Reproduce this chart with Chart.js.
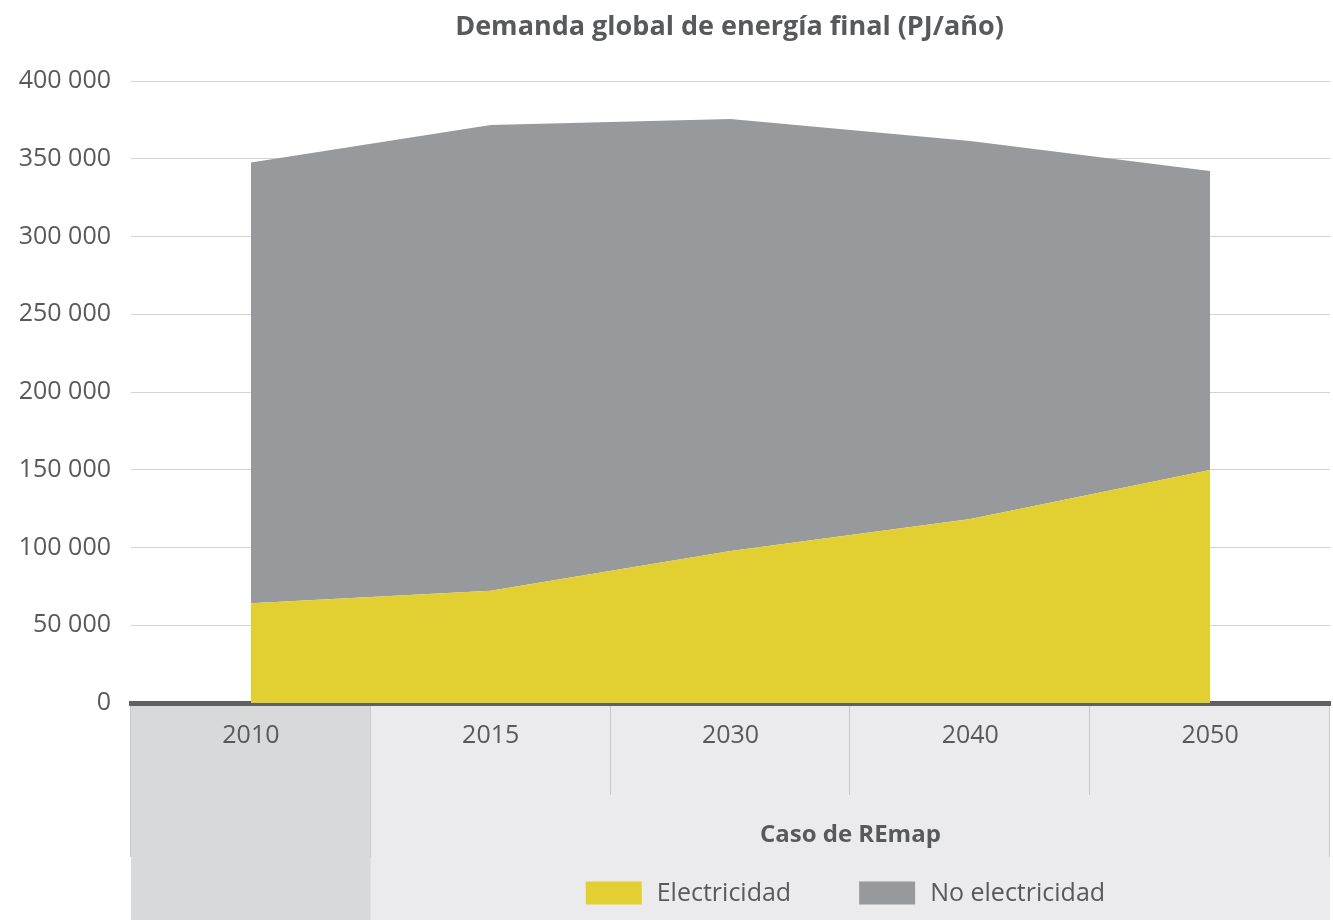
<!DOCTYPE html>
<html>
<head>
<meta charset="utf-8">
<script src="https://cdn.jsdelivr.net/npm/chart.js@4/dist/chart.umd.min.js"></script>
<style>
html,body{margin:0;padding:0;background:#fff;}
#wrap{width:1333px;height:920px;position:relative;}
</style>
</head>
<body>
<div id="wrap"><canvas id="c" width="1333" height="920"></canvas></div>
<script>
const title = 'Demanda global de energía final (PJ/año)';
const groupLabel = 'Caso de REmap';
const categories = ['2010', '2015', '2030', '2040', '2050'];
const electricidad = [64100, 72200, 97700, 118300, 149800];
const noElectricidad = [283400, 299500, 277800, 243100, 192300];
const seriesNames = ['Electricidad', 'No electricidad'];
const seriesColors = ['#e2cf31', '#98999d'];
const yTicks = [0, 50000, 100000, 150000, 200000, 250000, 300000, 350000, 400000];

const TEXT = '#58595b';
const FONT = '"Open Sans", "DejaVu Sans", sans-serif';

function fmt(v){
  return String(v).replace(/\B(?=(\d{3})+(?!\d))/g, ' ');
}

const decor = {
  id: 'decor',
  beforeDraw(chart){
    const ctx = chart.ctx;
    const area = chart.chartArea;
    const H = chart.height;
    const top = area.bottom + 2;
    const bandW = (area.right - area.left) / categories.length;
    ctx.save();
    ctx.fillStyle = '#ebebed';
    ctx.fillRect(area.left + bandW, top, area.right - area.left - bandW, H - top);
    ctx.fillStyle = '#d8d9db';
    ctx.fillRect(area.left, top, bandW, H - top);
    ctx.strokeStyle = '#c9c9cc';
    ctx.lineWidth = 1;
    const rowBottom = 857;
    ctx.beginPath();
    ctx.moveTo(area.left - 0.5, top); ctx.lineTo(area.left - 0.5, rowBottom);
    ctx.moveTo(area.right - 0.5, top); ctx.lineTo(area.right - 0.5, rowBottom);
    ctx.moveTo(Math.round(area.left + bandW) - 0.5, top); ctx.lineTo(Math.round(area.left + bandW) - 0.5, rowBottom);
    for (let i = 2; i < categories.length; i++) {
      const xx = Math.round(area.left + bandW * i) - 0.5;
      ctx.moveTo(xx, top); ctx.lineTo(xx, 795);
    }
    ctx.stroke();
    ctx.restore();
  },
  afterDraw(chart){
    const ctx = chart.ctx;
    const area = chart.chartArea;
    const bandW = (area.right - area.left) / categories.length;
    const groupCenter = area.left + bandW + (area.right - area.left - bandW) / 2;
    ctx.save();
    ctx.fillStyle = TEXT;
    ctx.textAlign = 'center';
    ctx.textBaseline = 'middle';
    ctx.font = 'bold 27px ' + FONT;
    ctx.fillText(title, (area.left + area.right) / 2 - 1, 27);
    ctx.font = 'bold 24px ' + FONT;
    ctx.fillText(groupLabel, groupCenter, 835);
    ctx.font = '400 25px ' + FONT;
    const boxW = 56, boxH = 23, gap = 15, itemGap = 68;
    const widths = chart.data.datasets.map(d => boxW + gap + ctx.measureText(d.label).width);
    const total = widths.reduce((a, b) => a + b, 0) + itemGap * (widths.length - 1);
    let lx = groupCenter - 5 - total / 2;
    const ly = 893;
    ctx.textAlign = 'left';
    chart.data.datasets.forEach((d, i) => {
      ctx.fillStyle = d.backgroundColor;
      ctx.fillRect(lx, ly - boxH / 2, boxW, boxH);
      ctx.fillStyle = TEXT;
      ctx.fillText(d.label, lx + boxW + gap, ly + 1);
      lx += widths[i] + itemGap;
    });
    ctx.restore();
  }
};

new Chart(document.getElementById('c'), {
  type: 'line',
  data: {
    labels: categories,
    datasets: [
      { label: seriesNames[0], data: electricidad, backgroundColor: seriesColors[0], borderColor: seriesColors[0], borderWidth: 0, fill: 'origin', pointRadius: 0, tension: 0 },
      { label: seriesNames[1], data: noElectricidad, backgroundColor: seriesColors[1], borderColor: seriesColors[1], borderWidth: 0, fill: '-1', pointRadius: 0, tension: 0 }
    ]
  },
  options: {
    responsive: false,
    animation: false,
    devicePixelRatio: 1,
    layout: { padding: { top: 81, right: 3, left: 0, bottom: 0 } },
    plugins: { legend: { display: false }, title: { display: false }, tooltip: { enabled: false } },
    scales: {
      x: {
        offset: true,
        grid: { display: false, drawTicks: false },
        border: { display: true, color: '#5f6062', width: 5 },
        ticks: { color: TEXT, font: { family: FONT, size: 25, weight: 400 }, padding: 18, maxRotation: 0 },
        afterFit(s){ s.height = 217; }
      },
      y: {
        stacked: true,
        min: 0, max: 400000,
        afterBuildTicks(s){ s.ticks = yTicks.map(v => ({ value: v })); },
        grid: { color: '#d3d3d5', lineWidth: 1, drawTicks: false },
        border: { display: false },
        ticks: { color: TEXT, font: { family: FONT, size: 25, weight: 400 }, padding: 20, callback: v => fmt(v) },
        afterFit(s){ s.width = 131; }
      }
    }
  },
  plugins: [decor]
});
</script>
</body>
</html>
